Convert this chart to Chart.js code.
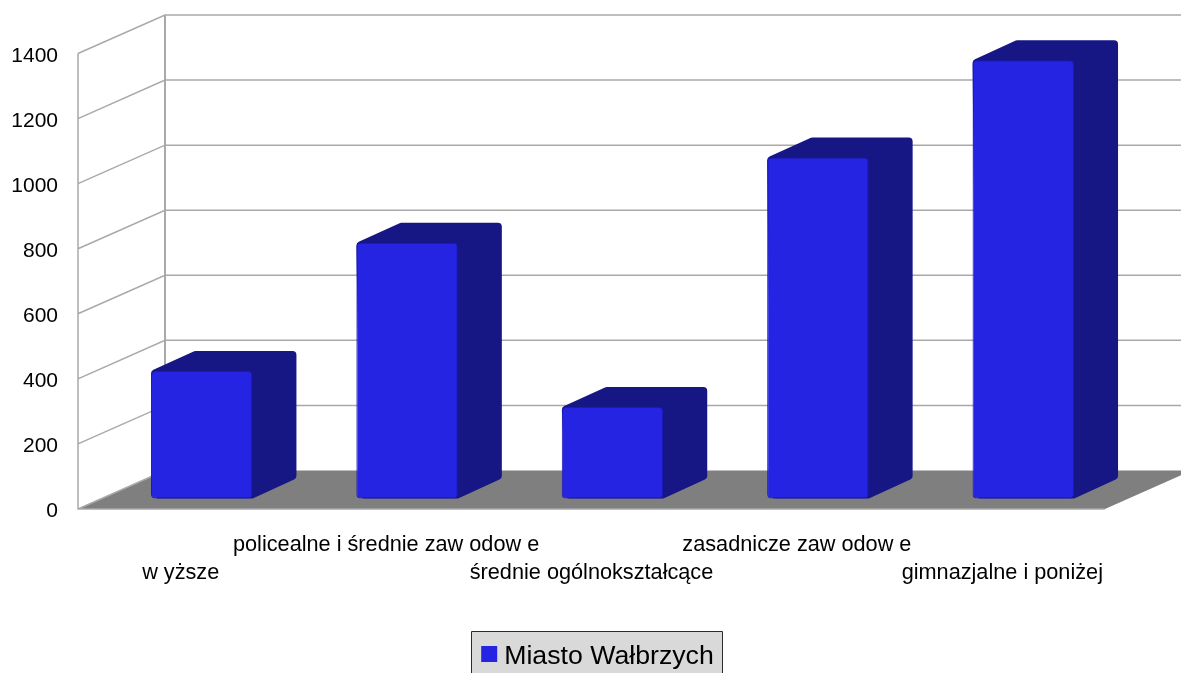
<!DOCTYPE html>
<html>
<head>
<meta charset="utf-8">
<style>
  html, body { margin: 0; background: #fff; overflow: hidden; }
  canvas { display: block; }
</style>
<script src="https://cdn.jsdelivr.net/npm/chart.js@4"></script>
</head>
<body>
<canvas id="chart" width="1181" height="673"></canvas>
<script>
// Staggered category labels: the empty line pushes a label onto the other row.
const categories = [
  ["", "w yższe"],
  ["policealne i średnie zaw odow e", ""],
  ["", "średnie ogólnokształcące"],
  ["zasadnicze zaw odow e", ""],
  ["", "gimnazjalne i poniżej"],
];
const seriesName = "Miasto Wałbrzych";
const values = [392, 786, 281, 1048, 1347];
const yTicks = [0, 200, 400, 600, 800, 1000, 1200, 1400];

const FONT = "'Liberation Sans', Arial, sans-serif";
const FRONT = "#2424e2", EDGE = "#1a1ab4", SIDE = "#161685";
const WALL = { dx: 87, dy: -38.5 };     // depth of the back wall
const BAR_POS = { dx: 21, dy: -10.5 }; // where the bars sit on the floor
const BAR_DEPTH = { dx: 44, dy: -20 };

function backWall(chart) {
  const { ctx, chartArea: a, scales: { y } } = chart;
  ctx.save();
  // floor
  ctx.fillStyle = "#7f7f7f";
  ctx.beginPath();
  ctx.moveTo(a.left, a.bottom);
  ctx.lineTo(a.left + WALL.dx, a.bottom + WALL.dy);
  ctx.lineTo(a.right + WALL.dx, a.bottom + WALL.dy);
  ctx.lineTo(a.right, a.bottom);
  ctx.closePath();
  ctx.fill();
  // grid on the side and back walls
  ctx.strokeStyle = "#a9a9a9";
  ctx.lineWidth = 1.5;
  ctx.beginPath();
  ctx.moveTo(a.left, a.top);
  ctx.lineTo(a.left, a.bottom);
  ctx.lineTo(a.right, a.bottom);
  yTicks.forEach((v) => {
    const py = y.getPixelForValue(v);
    ctx.moveTo(a.left, py);
    ctx.lineTo(a.left + WALL.dx, py + WALL.dy);
    if (v > 0) ctx.lineTo(a.right + WALL.dx, py + WALL.dy);
  });
  ctx.stroke();
  ctx.lineWidth = 2;
  ctx.beginPath();
  ctx.moveTo(a.left + WALL.dx, a.top + WALL.dy);
  ctx.lineTo(a.left + WALL.dx, a.bottom + WALL.dy);
  ctx.stroke();
  ctx.restore();
}

function legendFrame(chart) {
  const { ctx, legend } = chart;
  const hit = legend.legendHitBoxes[0];
  if (!hit) return;
  ctx.save();
  ctx.fillStyle = "#d9d9d9";
  ctx.strokeStyle = "#2b2b2b";
  ctx.lineWidth = 1;
  ctx.beginPath();
  ctx.rect(471.5, 631.5, 251, 60);
  ctx.fill();
  ctx.stroke();
  ctx.fillStyle = FRONT;
  ctx.fillRect(hit.left + 1, 646, 16, 16);
  ctx.restore();
}

// Outline of the top and side faces with softened corners.
function roundedPath(ctx, pts, r) {
  const last = pts[pts.length - 1];
  ctx.beginPath();
  ctx.moveTo((last[0] + pts[0][0]) / 2, (last[1] + pts[0][1]) / 2);
  pts.forEach((p, i) => {
    const next = pts[(i + 1) % pts.length];
    ctx.arcTo(p[0], p[1], next[0], next[1], r);
  });
  ctx.closePath();
}

// Drawn behind the front face the library draws.
function barFaces(chart, meta) {
  const { ctx } = chart;
  const d = BAR_DEPTH;
  meta.data.forEach((bar) => {
    const l = bar.x - bar.width / 2, r = bar.x + bar.width / 2;
    const t = bar.y, b = bar.base;
    ctx.fillStyle = SIDE;
    roundedPath(ctx, [[l, t], [l + d.dx, t + d.dy], [r + d.dx, t + d.dy], [r + d.dx, b + d.dy], [r, b], [l + 4, b]], 4);
    ctx.fill();
  });
}

const chart3d = {
  id: "chart3d",
  beforeDraw(chart) {
    backWall(chart);
    legendFrame(chart);
  },
  beforeDatasetDraw(chart, args) {
    chart.ctx.save();
    chart.ctx.translate(BAR_POS.dx, BAR_POS.dy);
    barFaces(chart, args.meta);
  },
  afterDatasetDraw(chart) {
    chart.ctx.restore();
  },
};

// Front face darkens at its left and right edges.
function frontFill(c) {
  const { chart, dataIndex } = c;
  const bar = chart.getDatasetMeta(0).data[dataIndex];
  if (!bar || !bar.width) return FRONT;
  const l = bar.x - bar.width / 2;
  const g = chart.ctx.createLinearGradient(l, 0, l + bar.width, 0);
  g.addColorStop(0, EDGE);
  g.addColorStop(0.03, FRONT);
  g.addColorStop(0.965, FRONT);
  g.addColorStop(1, "#1a1a9c");
  return g;
}

new Chart(document.getElementById("chart"), {
  type: "bar",
  data: {
    labels: categories,
    datasets: [{
      label: seriesName,
      data: values,
      backgroundColor: frontFill,
      borderColor: EDGE,
      borderWidth: 1,
      borderRadius: 4,
      borderSkipped: false,
      barPercentage: 0.494,
      categoryPercentage: 1,
      clip: false,
    }],
  },
  options: {
    responsive: false,
    animation: false,
    // negative padding only moves the legend right and down
    layout: { padding: { left: 0, top: 53.5, right: -13, bottom: -7 } },
    plugins: {
      tooltip: { enabled: false },
      legend: {
        position: "bottom",
        labels: {
          color: "#000",
          font: { family: FONT, size: 26.7, lineHeight: 1 },
          boxWidth: 10.65,
          boxHeight: 16,
          padding: 4,
          generateLabels: () => [{ text: seriesName, fillStyle: "transparent", strokeStyle: "transparent", lineWidth: 0, datasetIndex: 0 }],
        },
      },
    },
    scales: {
      x: {
        grid: { display: false },
        border: { display: false },
        afterFit: (s) => { s.height = 130.3; },
        ticks: {
          color: "#000",
          font: { family: FONT, size: 21.7, lineHeight: 1.29 },
          padding: 14.5,
          maxRotation: 0,
          minRotation: 0,
          autoSkip: false,
        },
      },
      y: {
        min: 0,
        max: 1400,
        grid: { display: false },
        border: { display: false },
        afterFit: (s) => { s.width = 78; },
        afterBuildTicks: (s) => { s.ticks = yTicks.map((value) => ({ value })); },
        ticks: {
          color: "#000",
          font: { family: FONT, size: 21, lineHeight: "5px" },
          padding: 12,
          // empty first line nudges the number down to the tick's level
          callback: (v) => ["", String(v)],
        },
      },
      // empty axis, only keeps the plot clear of the right edge
      spacer: {
        position: "right",
        grid: { display: false },
        border: { display: false },
        ticks: { display: false },
        afterFit: (s) => { s.width = 89; },
      },
    },
  },
  plugins: [chart3d],
});
</script>
</body>
</html>
